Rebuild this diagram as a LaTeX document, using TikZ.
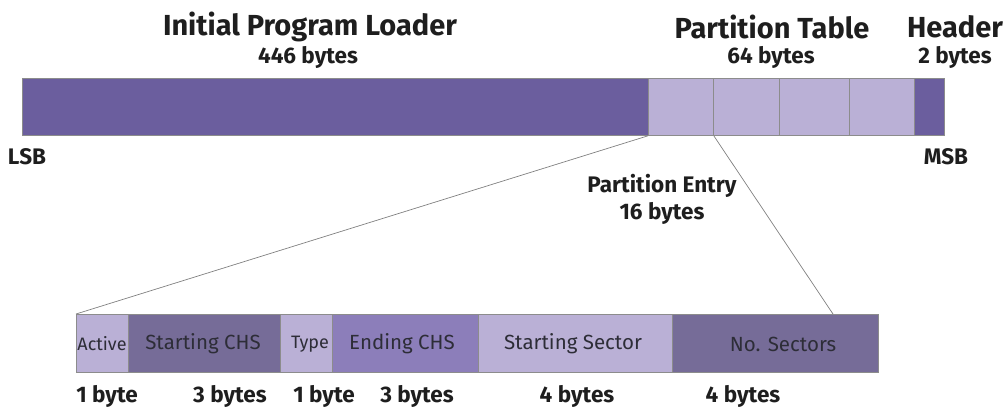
\documentclass[tikz,border=0pt]{standalone}
\usepackage{fontspec}
\setmainfont{Fira Sans}
\definecolor{dark}{RGB}{107,94,158}
\definecolor{light}{RGB}{186,176,214}
\definecolor{grayp}{RGB}{118,108,152}
\definecolor{midp}{RGB}{140,126,186}
\definecolor{txt}{RGB}{30,30,30}
\definecolor{celltxt}{RGB}{45,45,55}
\tikzset{
  cell/.style={draw=black!45, line width=0.8pt, anchor=north west, inner sep=0pt, minimum height=#1},
  cell/.default=57pt,
  head/.style={font=\fontsize{29}{32}\selectfont\bfseries, text=txt, inner sep=0pt},
  sub/.style={font=\fontsize{22.5}{25}\selectfont\bfseries, text=txt, inner sep=0pt},
  lbl/.style={font=\fontsize{20.5}{23}\selectfont, text=celltxt, inner sep=0pt},
  small/.style={font=\fontsize{18}{20}\selectfont, text=celltxt, inner sep=0pt},
  conn/.style={draw=black!50, line width=0.7pt}
}
\begin{document}
\begin{tikzpicture}[x=1pt,y=-1pt]
\useasboundingbox (0,0) rectangle (1007,408);
% top bar
\node[cell, fill=dark, minimum width=626pt] (ipl) at (22,78) {};
\node[cell, fill=light, minimum width=65pt] (p1) at (648,78) {};
\node[cell, fill=light, minimum width=66pt] (p2) at (713,78) {};
\node[cell, fill=light, minimum width=70pt] (p3) at (779,78) {};
\node[cell, fill=light, minimum width=65pt] (p4) at (849,78) {};
\node[cell, fill=dark, minimum width=30pt] (hd) at (914,78) {};
% headings
\node[head] (tipl) at (310,27) {Initial Program Loader};
\node[sub] (sipl) at (308,57) {446 bytes};
\node[head] (tpt) at (772,27) {Partition Table};
\node[sub] (spt) at (771,57) {64 bytes};
\node[head] (thd) at (955,27) {Header};
\node[sub] (shd) at (955,57) {2 bytes};
\node[sub] (lsb) at (27,157) {LSB};
\node[sub] (msb) at (946,157) {MSB};
\node[sub] (pe) at (662,186) {Partition Entry};
\node[sub] (pes) at (662,213) {16 bytes};
% bottom bar
\node[cell=58pt, fill=light, minimum width=52pt] (act) at (76,314) {};
\node[cell=58pt, fill=grayp, minimum width=152pt] (sch) at (128,314) {};
\node[cell=58pt, fill=light, minimum width=52pt] (typ) at (280,314) {};
\node[cell=58pt, fill=midp, minimum width=146pt] (ech) at (332,314) {};
\node[cell=58pt, fill=light, minimum width=194pt] (ss) at (478,314) {};
\node[cell=58pt, fill=grayp, minimum width=206pt] (ns) at (672,314) {};
\node[small] (lact) at (102,344) {Active};
\node[lbl] (lsch) at (203,344) {Starting CHS};
\node[small] (ltyp) at (310,344) {Type};
\node[lbl] (lech) at (402,344) {Ending CHS};
\node[lbl] (lss) at (573,344) {Starting Sector};
\node[lbl] (lns) at (783,344) {No. Sectors};
% sizes
\node[sub] (b1) at (107,396) {1 byte};
\node[sub] (b2) at (230,396) {3 bytes};
\node[sub] (b3) at (324,396) {1 byte};
\node[sub] (b4) at (417,396) {3 bytes};
\node[sub] (b5) at (577,396) {4 bytes};
\node[sub] (b6) at (743,396) {4 bytes};
% connectors
\coordinate (e) at (833,314);
\draw[conn] (p1.south west) -- (act.north west);
\draw[conn] (p1.south east) -- (e);
\end{tikzpicture}
\end{document}
